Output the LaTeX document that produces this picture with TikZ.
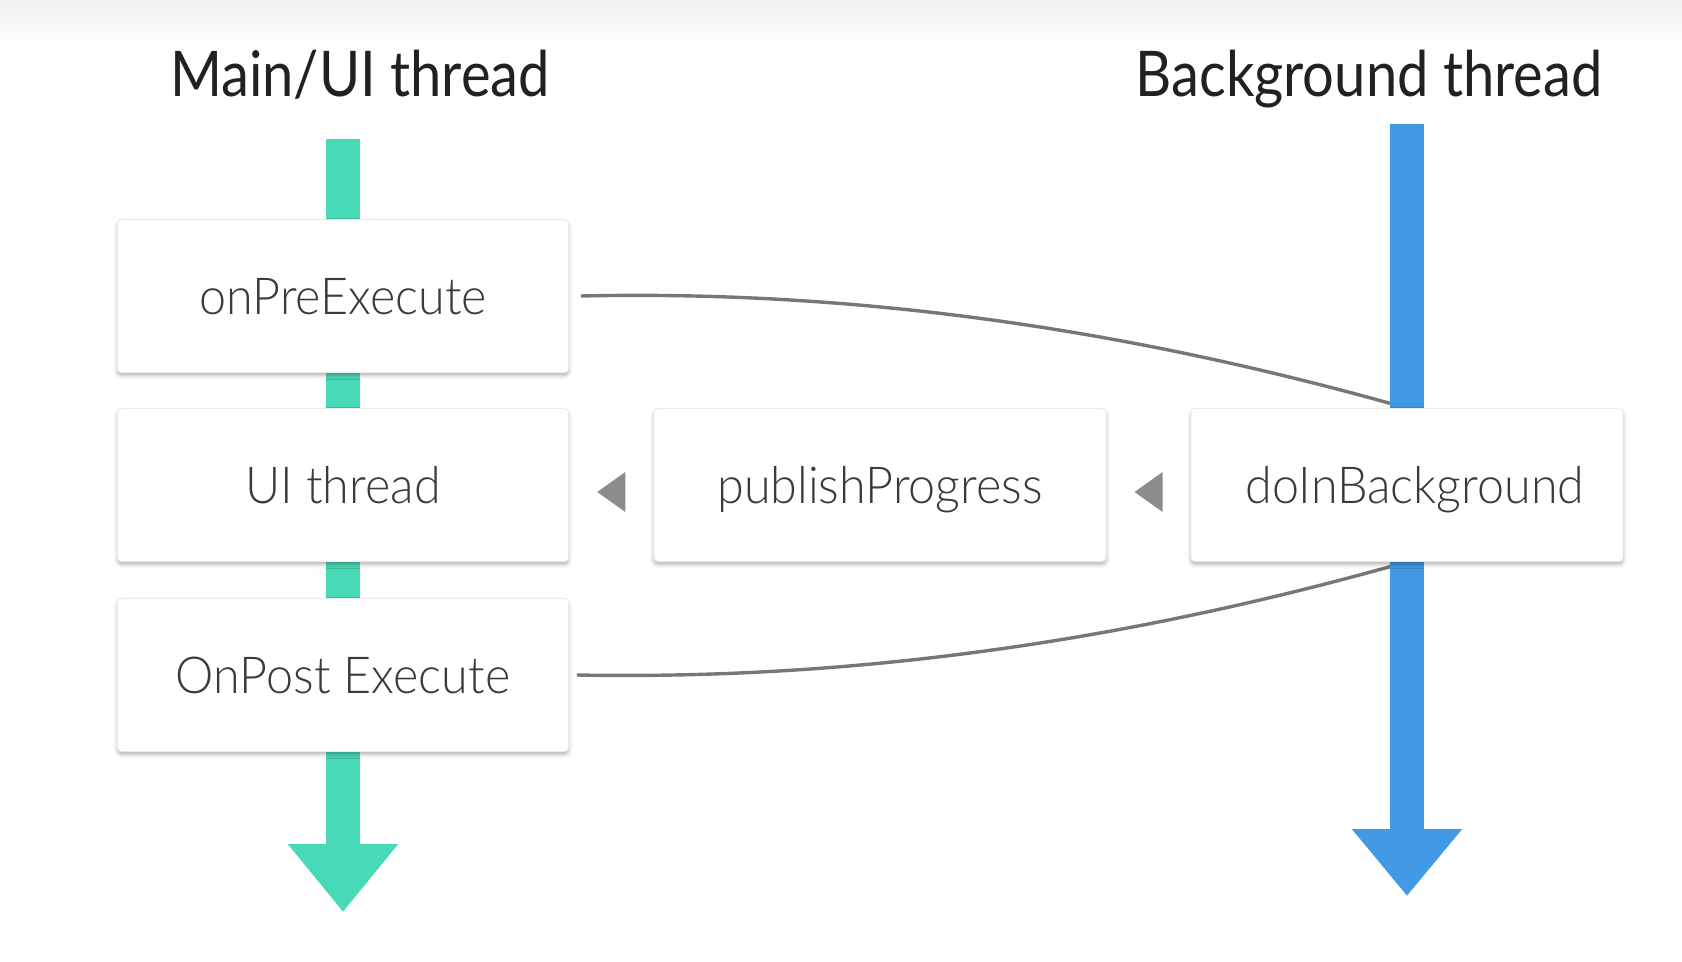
\documentclass[tikz,border=0pt]{standalone}
\usepackage{fontspec}
\setmainfont{Lato}[FakeStretch=0.89]
\newfontfamily\lightfont{Lato Light}[FakeStretch=0.95]
\usetikzlibrary{arrows.meta,shadows.blur,backgrounds,calc}
\definecolor{uigreen}{HTML}{48DAB7}
\definecolor{bgblue}{HTML}{4299E6}
\definecolor{linegray}{HTML}{777777}
\definecolor{tipgray}{HTML}{8C8C8C}
\definecolor{txtgray}{HTML}{3A3A3A}
\begin{document}
\begin{tikzpicture}[x=0.5pt,y=-0.5pt,
	box/.style={draw=black!8,fill=white,rounded corners=2pt,minimum width=225.5pt,minimum height=76.5pt,inner sep=0pt,
		text height=18.3pt,text depth=0pt,text=txtgray,font=\lightfont\fontsize{25.5}{30}\selectfont,
		blur shadow={shadow xshift=0pt,shadow yshift=-1.5pt,shadow blur radius=2pt,shadow opacity=30}},
	title/.style={anchor=base,text=black!87,font=\fontsize{31.5}{36}\selectfont},
	call/.style={draw=linegray,line width=1.7pt}]
	\useasboundingbox(0,0)rectangle(1682,962);
	\shade[top color=black!6,bottom color=white](0,0)rectangle(1682,50);
	\node[title](maint)at(360,97){Main/UI thread};
	\node[title](backt)at(1369,97){Background thread};
	\node[box](pre)at(343,296){onPreExecute};
	\node[box](ui)at(343,485){UI thread};
	\node[box](post)at(343,675){OnPost Execute};
	\node[box,minimum width=226pt](pub)at(880,485){publishProgress};
	\node[box,minimum width=216pt](bg)at(1407,485){\hspace*{8pt}doInBackground};
	\coordinate(uitop)at(343,139);
	\coordinate(uiend)at(343,912);
	\coordinate(bgtop)at(1407,124);
	\coordinate(bgend)at(1407,896);
	\begin{scope}[on background layer]
		\draw[call]([xshift=6pt]pre.east)..controls(850,290)and(1121,327)..(bg.north);
		\draw[call]([xshift=4pt]post.east)..controls(850,680)and(1121,643)..(bg.south);
		\draw[uigreen,line width=17pt,-{Triangle[width=53pt,length=34pt]}](uitop)--(uiend);
		\draw[bgblue,line width=17pt,-{Triangle[width=53pt,length=33.5pt]}](bgtop)--(bgend);
	\end{scope}
	\foreach \a/\b in {ui/pub,pub/bg}
		\fill[tipgray]($(\a.east)!.5!(\b.west)$)++(14,-13)--++(-28,20)--++(28,20)--cycle;
\end{tikzpicture}
\end{document}
